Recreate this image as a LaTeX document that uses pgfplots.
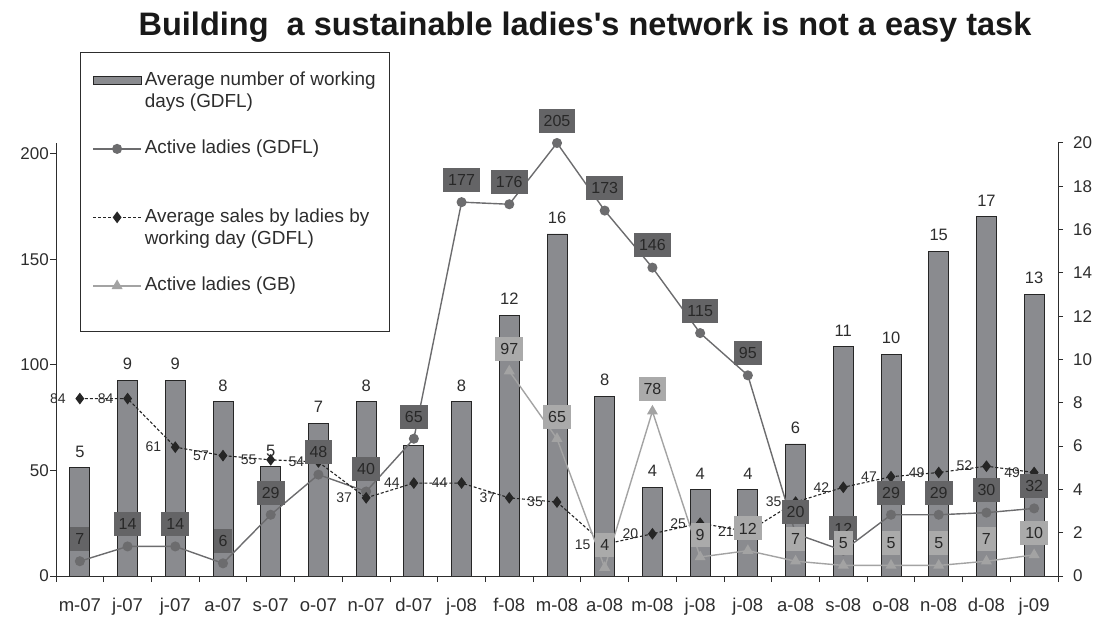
\documentclass[border=0pt]{standalone}
\usepackage{pgfplots}
\pgfplotsset{compat=1.18}
\usepackage{pgfplotstable}
\usepackage{fontspec}
\setmainfont{Liberation Sans}
\usetikzlibrary{calc}

\definecolor{barfill}{RGB}{138,139,143}
\definecolor{axcol}{RGB}{45,45,45}
\definecolor{gdfl}{RGB}{108,108,110}
\definecolor{gdflbox}{RGB}{100,100,102}
\definecolor{gbline}{RGB}{163,163,163}
\definecolor{gbbox}{RGB}{170,170,170}
\definecolor{boxtext}{RGB}{40,40,40}
\definecolor{dashcol}{RGB}{38,38,38}

\pgfplotsset{my line legend/.style={legend image code/.code={\draw[mark repeat=2,mark phase=2,##1] plot coordinates {(0pt,5pt)(24pt,5pt)(48pt,5pt)};}},
  my bar legend/.style={legend image code/.code={\draw[fill=barfill,draw=black!85,line width=0.8pt] (0pt,1pt) rectangle (48pt,9pt);}}}

\pgfplotstableread{
x bar blab gdfl sales
0 5.00 5 7 84
1 9.05 9 14 84
2 9.05 9 14 61
3 8.05 8 6 57
4 5.05 5 29 55
5 7.05 7 48 54
6 8.05 8 40 37
7 6.05 {} 65 44
8 8.05 8 177 44
9 12.05 12 176 37
10 15.8 16 205 35
11 8.3 8 173 15
12 4.1 4 146 20
13 4.0 4 115 25
14 4.0 4 95 21
15 6.1 6 20 35
16 10.6 11 12 42
17 10.25 10 29 47
18 15.0 15 29 49
19 16.6 17 30 52
20 13.0 13 32 49
}\maindata

\pgfplotstableread{
x gb
9 97
10 65
11 4
12 78
13 9
14 12
15 7
16 5
17 5
18 5
19 7
20 10
}\gbdata

\newcommand{\lent}[1]{\rule[-31pt]{0pt}{62pt}\begin{tabular}[t]{@{}l@{}}#1\end{tabular}}

\begin{document}
\begin{tikzpicture}
\begin{axis}[name=bars, scale only axis, width=1002pt, height=433pt,
  xmin=-0.5, xmax=20.5, ymin=0, ymax=20,
  axis x line=none, axis y line*=right,
  ytick={0,2,...,20}, tick align=outside, major tick length=5pt,
  y axis line style={draw=axcol, line width=1pt},
  tick style={draw=axcol, line width=1pt},
  /pgf/number format/assume math mode=true,
  yticklabel style={font=\fontsize{17}{17}\selectfont, text=axcol, anchor=west, inner sep=0pt, xshift=10pt},
  clip=false]
\addplot[ybar, bar width=20pt, fill=barfill, draw=black!85, line width=0.8pt,
  nodes near coords, point meta=explicit symbolic,
  nodes near coords style={font=\fontsize{16.5}{16.5}\selectfont, text=axcol, anchor=south, inner sep=0pt, yshift=10pt}]
  table[x=x, y=bar, meta=blab]{\maindata};
\end{axis}

\begin{axis}[scale only axis, width=1002pt, height=433pt,
  at={(bars.south west)}, anchor=south west,
  xmin=-0.5, xmax=20.5, ymin=0, ymax=205, clip=false,
  axis x line*=bottom, axis y line*=left,
  x axis line style={draw=axcol, line width=1pt, -},
  y axis line style={draw=axcol, line width=1pt, -},
  tick style={draw=axcol, line width=1pt},
  xtick={-0.5,0.5,...,20.5}, xticklabels={},
  extra x ticks={0,1,...,20},
  extra x tick labels={m-07,j-07,j-07,a-07,s-07,o-07,n-07,d-07,j-08,f-08,m-08,a-08,m-08,j-08,j-08,a-08,s-08,o-08,n-08,d-08,j-09},
  extra x tick style={major tick length=0pt, xticklabel style={font=\fontsize{18.5}{18.5}\selectfont, text=axcol, anchor=base, inner sep=0pt, yshift=-35.6pt}},
  ytick={0,50,...,200}, tick align=outside, major tick length=6pt,
  /pgf/number format/assume math mode=true,
  yticklabel style={font=\fontsize{17}{17}\selectfont, text=axcol, anchor=east, inner sep=0pt, xshift=-1pt},
  legend style={at={(axis description cs:0.02395,1.2102)}, anchor=north west,
    draw=axcol, line width=0.8pt, fill=white, inner xsep=12pt, inner ysep=0pt,
    font=\fontsize{18.9}{22}\selectfont, text=axcol,
    cells={anchor=base west, inner sep=0pt}, row sep=32pt, column sep=1pt},
  ]
\addlegendimage{my bar legend}
\addlegendentry{{\lent{Average number of working\\days (GDFL)}}}

\addplot[color=gdfl, line width=1.4pt, mark=*, mark size=4.3pt, mark options={fill=gdfl, draw=gdfl}, my line legend]
  table[x=x, y=gdfl]{\maindata};
\addlegendentry{{\lent{Active ladies (GDFL)}}}

\addplot[color=dashcol, line width=1.1pt, dash pattern=on 3pt off 2pt, mark=diamond*, mark size=5pt, mark options={solid, fill=dashcol, draw=dashcol}, my line legend]
  table[x=x, y=sales]{\maindata};
\addlegendentry{{\lent{Average sales by ladies by\\working day (GDFL)}}}

\addplot[color=gbline, line width=1.4pt, mark=triangle*, mark size=5pt, mark options={fill=gbline, draw=gbline}, my line legend]
  table[x=x, y=gb]{\gbdata};
\addlegendentry{{\lent{Active ladies (GB)}}}

\addlegendimage{empty legend}
\addlegendentry{}

% data labels
\addplot[forget plot, draw=none, mark=none, nodes near coords,
  nodes near coords style={font=\fontsize{14}{14}\selectfont, text=axcol, anchor=east, inner sep=0pt, xshift=-14pt}]
  table[x=x, y=sales]{\maindata};
\addplot[forget plot, draw=none, mark=none, nodes near coords,
  nodes near coords style={font=\fontsize{16}{16}\selectfont, text=boxtext, fill=gdflbox, inner xsep=5pt, inner ysep=0pt, minimum height=24pt, anchor=south, yshift=10pt}]
  table[x=x, y=gdfl]{\maindata};
\addplot[forget plot, draw=none, mark=none, nodes near coords,
  nodes near coords style={font=\fontsize{16}{16}\selectfont, text=boxtext, fill=gbbox, inner xsep=5pt, inner ysep=0pt, minimum height=24pt, anchor=south, yshift=10pt}]
  table[x=x, y=gb]{\gbdata};
\end{axis}

\node[anchor=base, font=\bfseries\fontsize{32.5}{32.5}\selectfont, text=black!90] at ($(bars.south west)+(529pt,540pt)$) {Building\ \ a sustainable ladies\textquotesingle s network is not a easy task};
\pgfresetboundingbox
\path ($(bars.south west)+(-56pt,-43pt)$) rectangle ++(1098pt,619pt);
\end{tikzpicture}
\end{document}
